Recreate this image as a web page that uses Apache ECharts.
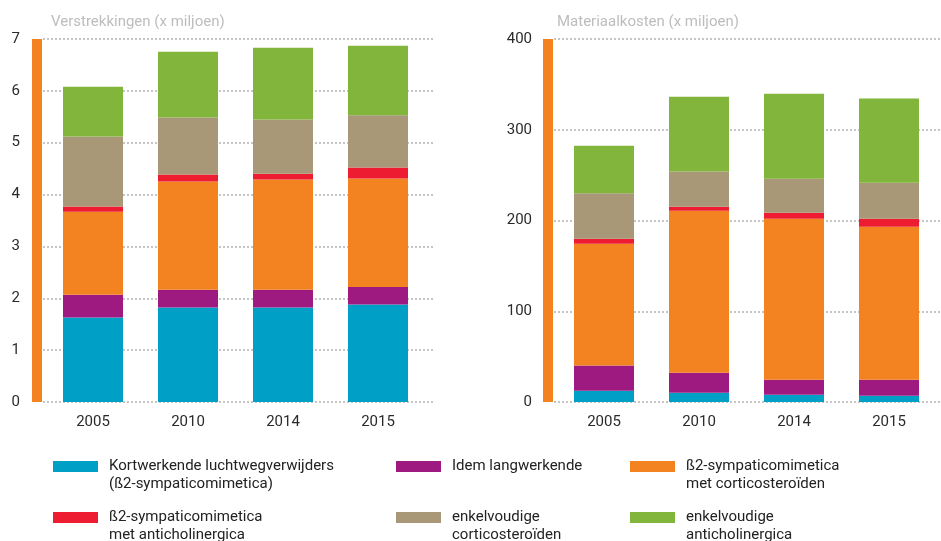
<!DOCTYPE html>
<html>
<head>
<meta charset="utf-8">
<script src="https://cdn.jsdelivr.net/npm/echarts@6/dist/echarts.min.js"></script>
<style>
html, body { margin: 0; padding: 0; background: #fff; }
#chart { width: 941px; height: 541px; }
</style>
</head>
<body>
<div id="chart"></div>
<script>
// jaren
var years = ["2005", "2010", "2014", "2015"];

var seriesNames = [
    "Kortwerkende luchtwegverwijders\n(ß2-sympaticomimetica)",
    "Idem langwerkende",
    "ß2-sympaticomimetica\nmet corticosteroïden",
    "ß2-sympaticomimetica\nmet anticholinergica",
    "enkelvoudige\ncorticosteroïden",
    "enkelvoudige\nanticholinergica"
];
var colors = ["#00a0c6", "#9e1a80", "#f38321", "#ed1c30", "#a99877", "#82b53b"];

// Verstrekkingen (x miljoen)
var vKort = [1.63, 1.82, 1.82, 1.88];
var vLang = [0.44, 0.345, 0.345, 0.34];
var vCortico = [1.60, 2.085, 2.125, 2.09];
var vAnti = [0.10, 0.135, 0.11, 0.21];
var vEnkCortico = [1.35, 1.10, 1.05, 1.01];
var vEnkAnti = [0.96, 1.27, 1.38, 1.34];
var vTicks = [0, 7, 1]; // min, max, interval

// Materiaalkosten (x miljoen)
var mKort = [12.4, 10.2, 8.0, 7.0];
var mLang = [27.9, 22.1, 16.6, 17.6];
var mCortico = [134.1, 178.5, 177.4, 168.6];
var mAnti = [5.6, 4.4, 6.6, 8.8];
var mEnkCortico = [49.9, 38.9, 37.4, 39.6];
var mEnkAnti = [52.5, 82.3, 93.7, 92.8];
var mTicks = [0, 400, 100];

var orange = "#f38321";
var font = "Roboto";

var chart = echarts.init(document.getElementById("chart"));

function bgYAxis(gridIndex, ticks, margin) {
    return {
        type: "value",
        gridIndex: gridIndex,
        min: ticks[0],
        max: ticks[1],
        interval: ticks[2],
        offset: 6,
        axisLine: { show: true, lineStyle: { color: orange, width: 10, cap: "butt" } },
        axisTick: { show: false },
        axisLabel: { margin: margin, color: "#2b2b2b", fontSize: 15, fontFamily: font },
        splitLine: { show: true, lineStyle: { color: "#b3b3b3", width: 1.5, type: [2, 2] } }
    };
}
function fgYAxis(gridIndex, ticks) {
    return {
        type: "value",
        gridIndex: gridIndex,
        min: ticks[0],
        max: ticks[1],
        interval: ticks[2],
        show: false
    };
}
function bgXAxis(gridIndex) {
    return { type: "category", gridIndex: gridIndex, data: years, show: false };
}
function fgXAxis(gridIndex) {
    return {
        type: "category",
        gridIndex: gridIndex,
        data: years,
        axisLine: { show: false },
        axisTick: { show: false },
        axisLabel: { margin: 13, color: "#2b2b2b", fontSize: 15, fontFamily: font }
    };
}

var series = [];
function addBars(axisIndex, stack, lists) {
    for (var i = 0; i < lists.length; i++) {
        series.push({
            name: seriesNames[i],
            type: "bar",
            stack: stack,
            xAxisIndex: axisIndex,
            yAxisIndex: axisIndex,
            barWidth: 60,
            itemStyle: { color: colors[i] },
            emphasis: { disabled: true },
            data: lists[i]
        });
    }
}
addBars(1, "v", [vKort, vLang, vCortico, vAnti, vEnkCortico, vEnkAnti]);
addBars(3, "m", [mKort, mLang, mCortico, mAnti, mEnkCortico, mEnkAnti]);

// legenda: 3 kolommen x 2 rijen
var legendPos = [
    [53, 439.5], [396, 457.5], [630, 439.5],
    [53, 490.5], [396, 490.5], [630, 490.5]
];
var legends = [];
for (var i = 0; i < seriesNames.length; i++) {
    legends.push({
        data: [seriesNames[i]],
        left: legendPos[i][0],
        top: legendPos[i][1],
        padding: 0,
        icon: "rect",
        itemWidth: 45,
        itemHeight: 11,
        selectedMode: false,
        // eerste regel op hoogte van het blokje
        formatter: function (name) {
            return name.indexOf("\n") >= 0 ? "\n" + name : name;
        },
        textStyle: {
            fontFamily: font,
            fontSize: 15,
            lineHeight: 18,
            color: "#222",
            padding: [0, 0, 0, 6]
        }
    });
}

var option = {
    animation: false,
    title: [
        { text: "Verstrekkingen (x miljoen)", left: 51, top: 15, padding: 0,
          textStyle: { color: "#bdbdbd", fontSize: 15, fontWeight: "normal", fontFamily: font } },
        { text: "Materiaalkosten (x miljoen)", left: 557, top: 15, padding: 0,
          textStyle: { color: "#bdbdbd", fontSize: 15, fontWeight: "normal", fontFamily: font } }
    ],
    legend: legends,
    grid: [
        { left: 43, top: 39, width: 392, height: 363 },
        { left: 45.5, top: 39, width: 380, height: 363 },
        { left: 554, top: 39, width: 387, height: 363 },
        { left: 556.5, top: 39, width: 380, height: 363 }
    ],
    xAxis: [bgXAxis(0), fgXAxis(1), bgXAxis(2), fgXAxis(3)],
    yAxis: [bgYAxis(0, vTicks, 17), fgYAxis(1, vTicks), bgYAxis(2, mTicks, 16), fgYAxis(3, mTicks)],
    series: series
};
chart.setOption(option);
</script>
</body>
</html>
